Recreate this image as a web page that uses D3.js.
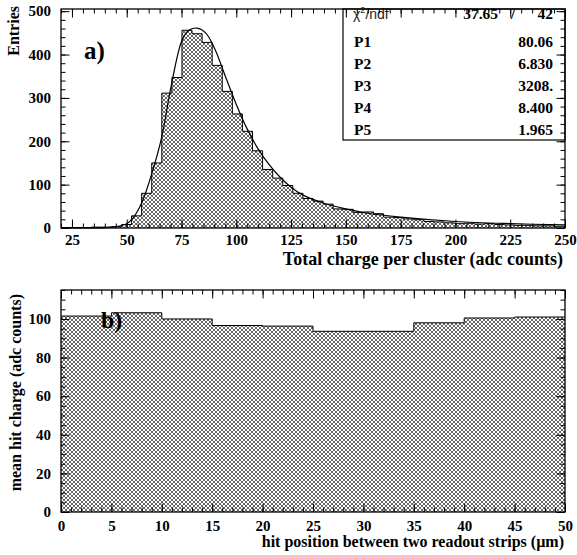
<!DOCTYPE html>
<html lang="en">
<head>
<meta charset="utf-8">
<title>Cluster charge and mean hit charge</title>
<script src="https://cdn.jsdelivr.net/npm/d3@7"></script>
<style>
  body { margin: 0; background: white; }
  svg { display: block; }
  .tick text { font-family: "Liberation Serif", "Times New Roman", serif; font-weight: bold; font-size: 15px; fill: black; }
  .title { font-family: "Liberation Serif", "Times New Roman", serif; font-weight: bold; font-size: 16px; fill: black; }
  .stat { font-family: "Liberation Serif", "Times New Roman", serif; font-weight: bold; font-size: 15.5px; fill: black; }
  .chi { font-family: "Liberation Sans", "DejaVu Sans", sans-serif; font-size: 14px; fill: #222; }
</style>
</head>
<body>
<svg id="chart" width="577" height="555"></svg>
<script>
// ---- data ----

// a) histogram: 50 bins of 4.6 from 20 to 250
var histLow = 20
var histBinWidth = 4.6
var histCounts = [1, 1, 1, 2, 2, 3, 8, 28, 80, 150,
                  311, 347, 456, 448, 428, 375, 315, 263, 223, 178,
                  135, 115, 98, 80, 68, 62, 55, 44, 43, 36,
                  37, 33, 25, 24, 21, 19, 15, 14, 12, 10,
                  11, 9, 10, 8, 7, 6, 6, 5, 5, 4]

// fitted curve
var fitX = [20, 30, 40, 45, 50, 53, 57, 62, 66, 70, 75, 78, 82, 86, 90, 95, 100, 105, 110, 115, 120, 125, 130, 140, 150, 160, 175, 200, 225, 250]
var fitY = [0, 0.3, 1, 3, 10, 24, 60, 135, 210, 320, 430, 455, 461, 450, 415, 350, 285, 228, 182, 146, 117, 94, 77, 57, 44, 34, 25, 15, 10, 7]

// fit statistics box
var statNames = ["P1", "P2", "P3", "P4", "P5"]
var statValues = ["80.06", "6.830", "3208.", "8.400", "1.965"]
var chiValue = "37.65"
var ndfValue = "42"

var chargeTicks = [25, 50, 75, 100, 125, 150, 175, 200, 225, 250]
var entriesTicks = [0, 100, 200, 300, 400, 500]

// b) mean hit charge vs position
var posBinStart = [0, 5, 10, 15, 20, 25, 30, 35, 40, 45]
var posBinWidth = 5
var meanCharge = [101.5, 103.2, 100, 96.6, 96.3, 93.6, 93.6, 98, 100.5, 101]

var posTicks = [0, 5, 10, 15, 20, 25, 30, 35, 40, 45, 50]
var meanTicks = [0, 20, 40, 60, 80, 100]

// ---- layout ----
var svg = d3.select("#chart")
var left = 61, right = 565

var defs = svg.append("defs")
var pat = defs.append("pattern")
  .attr("id", "hatch")
  .attr("patternUnits", "userSpaceOnUse")
  .attr("width", 4).attr("height", 4)
pat.append("path")
  .attr("d", "M-1,1 L1,-1 M0,4 L4,0 M3,5 L5,3 M-1,3 L1,5 M0,0 L4,4 M3,-1 L5,1")
  .attr("stroke", "black").attr("stroke-width", 0.6)

function frameAxes(g, x, y, top, bottom, xMajor, xMinorStep, yMajor, yMinorStep, xPad) {
  var xd = x.domain(), yd = y.domain()
  var xMinor = d3.range(Math.ceil(xd[0] / xMinorStep) * xMinorStep, xd[1] + 1e-9, xMinorStep)
  var yMinor = d3.range(0, yd[1] + 1e-9, yMinorStep)

  // inward ticks on all four sides
  var sides = [
    [d3.axisBottom(x), "translate(0," + bottom + ")", xMinor, xMajor],
    [d3.axisTop(x), "translate(0," + top + ")", xMinor, xMajor],
    [d3.axisLeft(y), "translate(" + left + ",0)", yMinor, yMajor],
    [d3.axisRight(y), "translate(" + right + ",0)", yMinor, yMajor]
  ]
  sides.forEach(function(s) {
    g.append("g").attr("transform", s[1])
      .call(s[0].tickValues(s[2]).tickSize(-4.5).tickFormat(""))
      .call(function(a) { a.select(".domain").remove() })
    g.append("g").attr("transform", s[1])
      .call(s[0].tickValues(s[3]).tickSize(-8.5).tickFormat(""))
      .call(function(a) { a.select(".domain").remove() })
  })
  g.selectAll(".tick line").attr("stroke", "black").attr("stroke-width", 1)

  // labels
  g.append("g").attr("transform", "translate(0," + bottom + ")")
    .call(d3.axisBottom(x).tickValues(xMajor).tickSize(0).tickPadding(xPad))
    .call(function(a) { a.select(".domain").remove() })
  g.append("g").attr("transform", "translate(" + left + ",0)")
    .call(d3.axisLeft(y).tickValues(yMajor).tickSize(0).tickPadding(10))
    .call(function(a) { a.select(".domain").remove() })

  g.append("rect")
    .attr("x", left).attr("y", top)
    .attr("width", right - left).attr("height", bottom - top)
    .attr("fill", "none").attr("stroke", "black").attr("stroke-width", 1.3)
}

// ---- a) histogram ----
var topA = 9, bottomA = 228
var xA = d3.scaleLinear().domain([20, 250]).range([left, right])
var yA = d3.scaleLinear().domain([0, 505]).range([bottomA, topA])

var histPts = histCounts.map(function(c, i) { return [histLow + i * histBinWidth, c] })
histPts.push([histLow + histCounts.length * histBinWidth, histCounts[histCounts.length - 1]])

var gA = svg.append("g")
gA.append("path")
  .datum(histPts)
  .attr("d", d3.area().curve(d3.curveStepAfter)
    .x(function(d) { return xA(d[0]) }).y0(yA(0)).y1(function(d) { return yA(d[1]) }))
  .attr("fill", "url(#hatch)")
gA.append("path")
  .datum(histPts)
  .attr("d", d3.line().curve(d3.curveStepAfter)
    .x(function(d) { return xA(d[0]) }).y(function(d) { return yA(d[1]) }))
  .attr("fill", "none").attr("stroke", "black").attr("stroke-width", 1)

gA.append("path")
  .datum(fitX.map(function(v, i) { return [v, fitY[i]] }))
  .attr("d", d3.line().curve(d3.curveCatmullRom)
    .x(function(d) { return xA(d[0]) }).y(function(d) { return yA(d[1]) }))
  .attr("fill", "none").attr("stroke", "black").attr("stroke-width", 1.2)

// stats box
var box = gA.append("g")
box.append("rect")
  .attr("x", 343).attr("y", topA)
  .attr("width", right - 343).attr("height", 140 - topA)
  .attr("fill", "white").attr("stroke", "black").attr("stroke-width", 1.2)
var chi = box.append("text").attr("class", "chi").attr("x", 353).attr("y", 19)
chi.append("tspan").text("\u03C7")
chi.append("tspan").attr("dy", -6).attr("font-size", 9).text("2")
chi.append("tspan").attr("dy", 6).text("/ndf")
box.append("text").attr("class", "stat").attr("x", 498).attr("y", 19).attr("text-anchor", "end").text(chiValue)
box.append("text").attr("class", "stat").attr("x", 513).attr("y", 19).attr("text-anchor", "middle").text("/")
box.append("text").attr("class", "stat").attr("x", 553).attr("y", 19).attr("text-anchor", "end").text(ndfValue)
box.selectAll(".pname").data(statNames).enter().append("text")
  .attr("class", "stat pname").attr("x", 354)
  .attr("y", function(d, i) { return 47 + i * 22 })
  .text(function(d) { return d })
box.selectAll(".pval").data(statValues).enter().append("text")
  .attr("class", "stat pval").attr("x", 553).attr("text-anchor", "end")
  .attr("y", function(d, i) { return 47 + i * 22 })
  .text(function(d) { return d })

frameAxes(gA, xA, yA, topA, bottomA, chargeTicks, 5, entriesTicks, 20, 6)

gA.append("text").attr("class", "title").style("font-size", "25px")
  .attr("x", 84).attr("y", 59).text("a)")
gA.append("text").attr("class", "title").style("font-size", "18px")
  .attr("x", 563).attr("y", 265).attr("text-anchor", "end")
  .text("Total charge per cluster (adc counts)")
gA.append("text").attr("class", "title")
  .attr("transform", "translate(19,6) rotate(-90)").attr("text-anchor", "end")
  .text("Entries")

// ---- b) mean hit charge ----
var topB = 290, bottomB = 512
var xB = d3.scaleLinear().domain([0, 50]).range([left, right])
var yB = d3.scaleLinear().domain([0, 115]).range([bottomB, topB])

var posPts = meanCharge.map(function(c, i) { return [posBinStart[i], c] })
posPts.push([posBinStart[posBinStart.length - 1] + posBinWidth, meanCharge[meanCharge.length - 1]])

var gB = svg.append("g")
gB.append("path")
  .datum(posPts)
  .attr("d", d3.area().curve(d3.curveStepAfter)
    .x(function(d) { return xB(d[0]) }).y0(yB(0)).y1(function(d) { return yB(d[1]) }))
  .attr("fill", "url(#hatch)")
gB.append("path")
  .datum(posPts)
  .attr("d", d3.line().curve(d3.curveStepAfter)
    .x(function(d) { return xB(d[0]) }).y(function(d) { return yB(d[1]) }))
  .attr("fill", "none").attr("stroke", "black").attr("stroke-width", 1)

frameAxes(gB, xB, yB, topB, bottomB, posTicks, 1, meanTicks, 5, 8.5)

gB.append("text").attr("class", "title").style("font-size", "24px")
  .attr("x", 101).attr("y", 328).text("b)")
gB.append("text").attr("class", "title")
  .attr("x", 564).attr("y", 547).attr("text-anchor", "end")
  .text("hit position between two readout strips (\u00B5m)")
gB.append("text").attr("class", "title")
  .attr("transform", "translate(21,294) rotate(-90)").attr("text-anchor", "end")
  .text("mean hit charge (adc counts)")
</script>
</body>
</html>
